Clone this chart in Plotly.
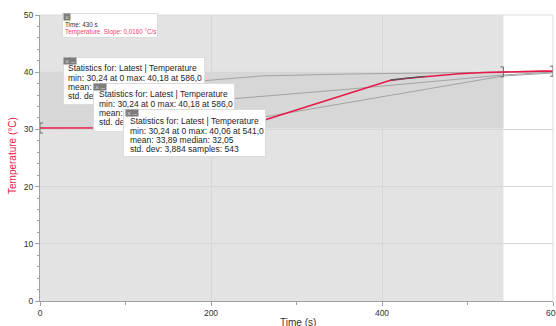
import plotly.graph_objects as go

# ---------------- data ----------------
time_s = [0, 50, 100, 150, 200, 233, 260, 300, 350, 390, 409, 430, 460, 490, 520, 541, 560, 586, 600]
temp_c = [30.24, 30.24, 30.25, 30.24, 30.25, 30.30, 31.5, 33.4, 35.8, 37.7, 38.55, 38.95, 39.4, 39.72, 39.95, 40.06, 40.10, 40.18, 40.18]

# earlier runs shown in grey
runA_t = [150, 195, 260, 363, 433, 542, 600]
runA_T = [38.0, 38.6, 39.35, 39.69, 39.81, 40.03, 40.12]
runB_t = [200, 222, 363, 542, 600]
runB_T = [35.0, 35.31, 37.06, 39.51, 40.03]
runC_t = [240, 262, 363, 542, 600]
runC_T = [31.6, 32.17, 34.79, 39.34, 39.86]

# tangent (slope tool)
tan_time = 430
tan_temp = 38.95
tan_slope = 0.0160
tan_half = 20

# selection / statistics
sel_start, sel_end = 0, 542
sel_min, sel_max = 30.24, 40.06
all_max, all_max_t = 40.18, 586.0
sel_max_t = 541.0
sel_mean, sel_median, sel_std, sel_n = "33,89", "32,05", "3,884", 543

x_ticks = [0, 200, 400, 600]
y_ticks = [0, 10, 20, 30, 40, 50]

RED = "#e8194a"
FONT = "Liberation Sans, Arial, sans-serif"

fig = go.Figure()

for tt, TT in [(runA_t, runA_T), (runB_t, runB_T), (runC_t, runC_T)]:
    fig.add_trace(go.Scatter(x=tt, y=TT, mode="lines",
                             line=dict(color="#a3a3a3", width=1), hoverinfo="skip"))

fig.add_trace(go.Scatter(x=time_s, y=temp_c, mode="lines",
                         line=dict(color=RED, width=1.6), hoverinfo="skip"))

tx = [tan_time - tan_half, tan_time + tan_half]
ty = [tan_temp + tan_slope * (x - tan_time) for x in tx]
fig.add_trace(go.Scatter(x=tx, y=ty, mode="lines",
                         line=dict(color="#555555", width=1.4), hoverinfo="skip"))

shapes = [
    dict(type="rect", xref="x", yref="y", x0=sel_start, x1=sel_end, y0=0, y1=50,
         fillcolor="#e3e3e3", line=dict(width=0), layer="below"),
    dict(type="rect", xref="x", yref="y", x0=sel_start, x1=sel_end, y0=sel_min, y1=sel_max,
         fillcolor="#d7d7d7", line=dict(width=0), layer="below"),
    dict(type="line", xref="paper", yref="paper", x0=0, x1=1, y0=1, y1=1,
         line=dict(color="#dddddd", width=1)),
    dict(type="line", xref="paper", yref="paper", x0=1, x1=1, y0=0, y1=1,
         line=dict(color="#dddddd", width=1)),
]

def bracket(xa, ya, direction):
    d = 3 * direction
    return dict(type="path", xref="x", yref="y", xsizemode="pixel", ysizemode="pixel",
                xanchor=xa, yanchor=ya,
                path=f"M {d} -5 L 0 -5 L 0 5 L {d} 5",
                line=dict(color="#6a6a6a", width=1))

shapes += [bracket(sel_start, sel_min, 1), bracket(sel_end, sel_max, -1),
           bracket(600, all_max, -1)]

# ---------------- annotation boxes (pixel helpers) ----------------
L, R, T, B = 40, 553, 15, 301
def px(xp):
    return (xp - L) / (R - L)
def py(yp):
    return (B - yp) / (B - T)

ann = []

def box(left, top, w, h):
    ann.append(dict(xref="paper", yref="paper", x=px(left), y=py(top),
                    xanchor="left", yanchor="top", text=" ", showarrow=False,
                    width=w, height=h, bgcolor="white", bordercolor="#dcdcdc",
                    borderwidth=1, borderpad=0, font=dict(size=2)))

def icon(left, top, sym):
    ann.append(dict(xref="paper", yref="paper", x=px(left), y=py(top),
                    xanchor="left", yanchor="top", text=sym, showarrow=False,
                    width=6, height=6, bgcolor="#7d7d7d", borderpad=0,
                    font=dict(size=7, color="#d0d0d0", family=FONT)))

def line(left, yc, text, size=8.5, color="#1e1e1e"):
    ann.append(dict(xref="paper", yref="paper", x=px(left), y=py(yc),
                    xanchor="left", yanchor="middle", text=text, showarrow=False,
                    borderpad=0, font=dict(size=size, color=color, family=FONT)))

# slope box
box(61.5, 13.3, 94, 23)
icon(62.5, 13.3, "×")
line(64, 24.3, f"Time: {tan_time} s", size=6.3, color="#333333")
line(64, 31.7, f"Temperature  Slope: {tan_slope:.4f} °C/s".replace(".", ","),
     size=6.3, color="#f0416c")

hdr = "Statistics for: Latest | Temperature"
mm_all = f"min: 30,24 at 0 max: {all_max:.2f} at {all_max_t:.1f}".replace(".", ",")
mm_sel = f"min: 30,24 at 0 max: {sel_max:.2f} at {sel_max_t:.1f}".replace(".", ",")

# box 1
box(62.7, 56.7, 140, 46)
icon(62.7, 56.7, "×"); icon(68.7, 56.7, "–")
line(67, 68.3, hdr); line(67, 77.5, mm_all); line(67, 86.7, "mean:"); line(67, 96, "std. dev:")
# box 2
box(93.3, 82.7, 139.5, 46.5)
icon(93.3, 82.7, "×"); icon(99.3, 82.7, "–")
line(97.6, 94.3, hdr); line(97.6, 103.5, mm_all); line(97.6, 113, "mean:"); line(97.6, 122.5, "std. dev:")
# box 3
box(123.3, 109, 141, 45.5)
icon(125, 109, "×"); icon(131, 109, "–")
line(128.5, 121, hdr); line(128.5, 130.5, mm_sel)
line(128.5, 140, f"mean: {sel_mean} median: {sel_median}")
line(128.5, 149.2, f"std. dev: {sel_std} samples: {sel_n}")

# axis titles
ann.append(dict(xref="paper", yref="paper", x=px(12), y=py(156), text="Temperature (°C)",
                textangle=-90, showarrow=False, xanchor="center", yanchor="middle",
                font=dict(size=10, color=RED, family=FONT)))
ann.append(dict(xref="paper", yref="paper", x=px(298), y=py(316), text="Time (s)",
                showarrow=False, xanchor="center", yanchor="top", borderpad=0,
                font=dict(size=10, color="#333333", family=FONT)))
# last x tick label (partly outside the window, as in the original)
ann.append(dict(xref="x", yref="paper", x=x_ticks[-1], y=py(307), text=str(x_ticks[-1]),
                showarrow=False, xanchor="center", yanchor="top", borderpad=0,
                font=dict(size=8.5, color="#333333", family=FONT)))

axis_common = dict(showline=True, linecolor="#a0a0a0", linewidth=1, ticks="outside",
                   ticklen=4, tickcolor="#a0a0a0", showgrid=True, gridcolor="#d6d6d6",
                   gridwidth=1, zeroline=False, automargin=False,
                   tickfont=dict(size=8.5, color="#333333", family=FONT))

fig.update_layout(
    width=556, height=326, margin=dict(l=L, r=556 - R, t=T, b=326 - B, autoexpand=False),
    paper_bgcolor="white", plot_bgcolor="white", showlegend=False,
    shapes=shapes, annotations=ann,
    xaxis=dict(range=[0, 600], tickvals=x_ticks,
               minor=dict(dtick=100, ticks="outside", ticklen=3, tickcolor="#a0a0a0", showgrid=False),
               **axis_common),
    yaxis=dict(range=[0, 50], tickvals=y_ticks,
               minor=dict(dtick=2, ticks="outside", ticklen=2.5, tickcolor="#a0a0a0", showgrid=False),
               **axis_common),
)

fig.write_html("out.html", config={"displayModeBar": False},
               post_script="document.body.style.margin='0';document.body.style.overflow='hidden';")
